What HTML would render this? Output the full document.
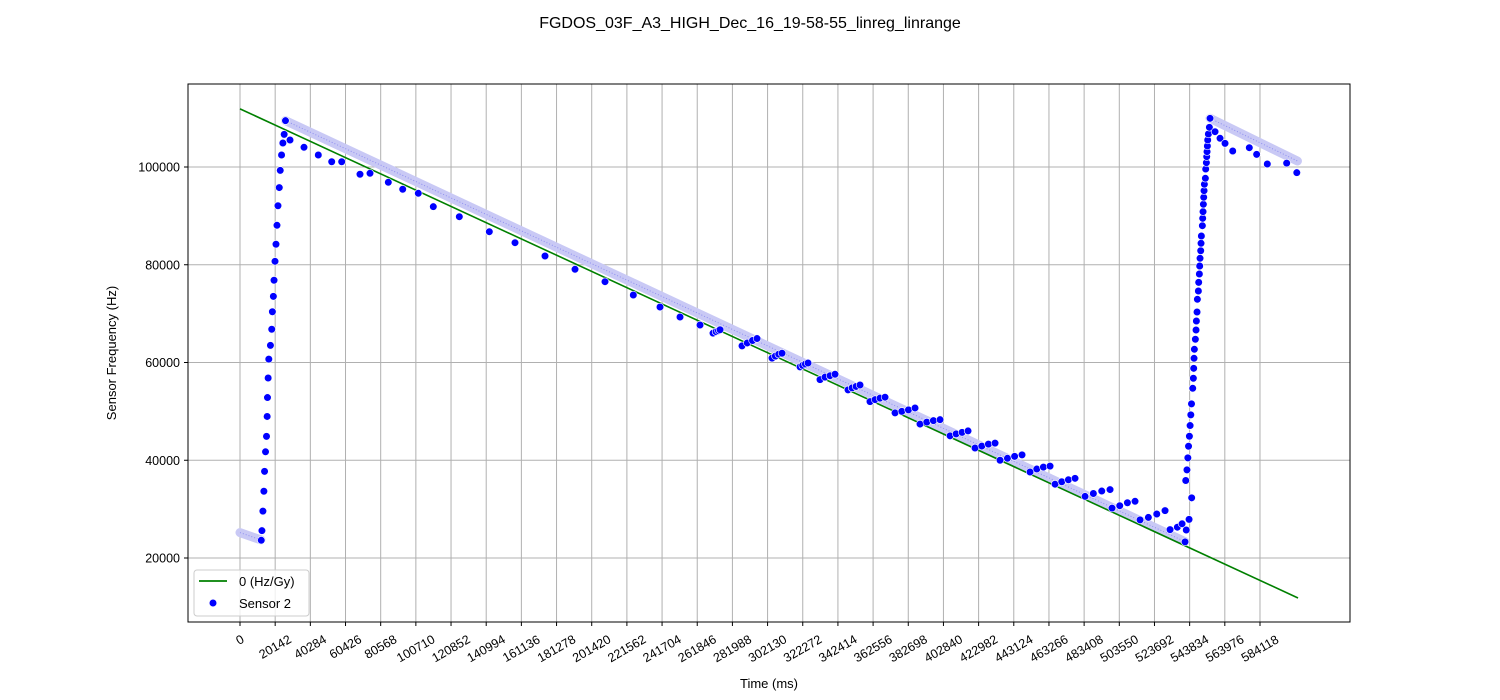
<!DOCTYPE html>
<html><head><meta charset="utf-8"><style>
html,body{margin:0;padding:0;background:#fff;}
svg{display:block;font-family:"Liberation Sans","DejaVu Sans",sans-serif;}
</style></head><body>
<svg id="chart" width="1500" height="700" viewBox="0 0 1500 700" xmlns="http://www.w3.org/2000/svg">
<rect x="0" y="0" width="1500" height="700" fill="#fff"/>
<text x="750" y="28" text-anchor="middle" font-size="16" fill="#000">FGDOS_03F_A3_HIGH_Dec_16_19-58-55_linreg_linrange</text>
<g id="grid"></g>
<g id="band"></g>
<g id="fit"></g>
<g id="pts"></g>
<rect x="188" y="84" width="1162" height="538" fill="none" stroke="#000" stroke-width="1"/>
<g id="xticks"></g>
<g id="yticks"></g>
<text x="769" y="688" text-anchor="middle" font-size="13">Time (ms)</text>
<text transform="translate(116,353) rotate(-90)" text-anchor="middle" font-size="13">Sensor Frequency (Hz)</text>
<g>
<rect x="194" y="570" width="115" height="46" rx="3" fill="#fff" fill-opacity="0.8" stroke="#ccc"/>
<line x1="199" y1="581" x2="227" y2="581" stroke="green" stroke-width="1.8"/>
<text x="239" y="586" font-size="13">0 (Hz/Gy)</text>
<circle cx="213" cy="603" r="3.8" fill="blue" stroke="#fff" stroke-width="0.6"/>
<text x="239" y="608" font-size="13">Sensor 2</text>
</g>
</svg>
<script>
// ---- data ----
var xTickVals = [0,20142,40284,60426,80568,100710,120852,140994,161136,181278,201420,221562,241704,261846,281988,302130,322272,342414,362556,382698,402840,422982,443124,463266,483408,503550,523692,543834,563976,584118];
var yTickVals = [20000,40000,60000,80000,100000];
var fitT = [0,605900];
var fitV = [111900,11820];
var band1T = [0,12000];
var band1V = [25200,23700];
var band2T = [26050,260000,541200];
var band2V = [109480,70450,23340];
var band3T = [555520,605560];
var band3V = [109960,101230];
var riseT = [12180,12560,13120,13680,14060,14620,15180,15550,15740,16120,16490,17430,18180,18550,19110,19490,20050,20610,21180,21740,22490,23050,23800,24550,25300,26050];
var riseV = [23620,25590,29590,33660,37730,41730,44890,48960,52830,56830,60690,63500,66800,70380,73530,76830,80700,84200,88070,92070,95790,99300,102460,104910,106670,109480];
var dropT = [28640,36650,44840,52520,58240,68720,74450,84930,93180,102110,110700,125600,142780,157490,174670,191850,209030,225240,240530,251990,263440];
var dropV = [105520,104030,102460,101080,101080,98510,98710,96870,95440,94620,91880,89830,86760,84510,81790,79070,76530,73810,71360,69310,67670];
var stepT = [270890,272600,274000,274900,287500,290500,293500,296090,304680,306600,308500,310400,320710,322200,323800,325290,332170,335000,337900,340760,348200,350500,352800,355070,360800,363700,366500,369390,375120,379000,382800,386570,389440,393300,397100,400890,406620,410100,413500,416930,420930,424800,428600,432390,435250,439500,443600,447850,452430,456300,460100,463890,466750,470600,474400,478200,483930,488700,493500,498250,499390,503800,508200,512570,515430,520200,525000,529750,532610,536800,539500,541200];
var stepV = [66000,66300,66500,66700,63400,64000,64500,64900,60900,61300,61700,61900,59100,59400,59700,59900,56500,57000,57300,57600,54400,54800,55100,55400,52000,52400,52700,52900,49700,50000,50300,50700,47400,47800,48100,48300,45000,45400,45700,46000,42500,42900,43300,43500,40000,40400,40800,41100,37600,38200,38600,38800,35100,35600,36000,36300,32600,33200,33700,34000,30200,30700,31300,31600,27800,28300,29000,29700,25800,26300,27000,23300];
var rise2T = [541900,543500,545000,545600,545960,546160,546350,546540,547110,547500,547690,548070,548260,548830,549020,549400,549590,549790,550170,550360,550550,551120,551310,551510,551700,551890,552080,552270,552840,553030,553420,553610,553800,553990,554180,554560,555140,555520];
var rise2V = [25730,27900,32310,54720,56770,58810,60860,62700,64750,66650,68490,70330,72930,74630,76400,78110,79740,81320,82870,84390,85880,87990,89500,90860,92370,93800,95150,96460,97690,99590,100880,102110,103130,104300,105520,106750,108120,109960];
var rise2bT = [541600,542300,542800,543200,543700,544100,544500,544900];
var rise2bV = [35850,38030,40490,42870,44910,47100,49290,51540];
var decay3T = [558380,561240,564100,568500,578000,582200,588300,599400,605200];
var decay3V = [107220,105870,104840,103270,103950,102590,100610,100790,98840];
// ---- axes ----
function xs(t){return 240 + t*1.7462e-3;}
function ys(v){return 558 - (v-20000)*0.0048875;}
var NS="http://www.w3.org/2000/svg";
function mk(tag,attrs,parent){var e=document.createElementNS(NS,tag);for(var k in attrs)e.setAttribute(k,attrs[k]);parent.appendChild(e);return e;}
var grid=document.getElementById('grid'),xt=document.getElementById('xticks'),yt=document.getElementById('yticks');
xTickVals.forEach(function(t){
  var x=xs(t);
  var g=mk('line',{x1:x,y1:84,x2:x,y2:622,stroke:'#b0b0b0','stroke-width':1},grid);
  
  
  var tk=mk('line',{x1:x,y1:622,x2:x,y2:626,stroke:'#000'},xt);
  
  
  var w=String(t).length*7;
  var cy=633+(w*0.5+10.4)/2+3.5;
  var tx=mk('text',{x:0,y:0,'font-size':12.5,'text-anchor':'middle',transform:'translate('+(x+2)+','+cy+') rotate(-30)'},xt);
  tx.textContent=t;
  
  
});
yTickVals.forEach(function(v){
  var y=ys(v);
  var g=mk('line',{x1:188,y1:y,x2:1350,y2:y,stroke:'#b0b0b0','stroke-width':1},grid);
  
  
  var tk=mk('line',{x1:184,y1:y,x2:188,y2:y,stroke:'#000'},yt);
  
  
  var tx=mk('text',{x:180,y:y+4.5,'font-size':12.5,'text-anchor':'end'},yt);
  tx.textContent=v;
  
  
});
// ---- band ----
var band=document.getElementById('band');
[[band1T,band1V],[band2T,band2V],[band3T,band3V]].forEach(function(b){
  var p=b[0].map(function(t,i){return xs(t)+','+ys(b[1][i]);}).join(' ');
  var l=mk('polyline',{points:p,fill:'none',stroke:'#c9c9f5','stroke-width':9,'stroke-linecap':'round'},band);
  
  
  var l2=mk('polyline',{points:p,fill:'none',stroke:'#8f8ff0','stroke-width':1,'stroke-dasharray':'1 2'},band);
  
  
});
// ---- fit line ----
var fl=mk('line',{x1:xs(fitT[0]),y1:ys(fitV[0]),x2:xs(fitT[1]),y2:ys(fitV[1]),stroke:'green','stroke-width':1.6},document.getElementById('fit'));


// ---- points ----
var pts=document.getElementById('pts');
[[riseT,riseV],[dropT,dropV],[stepT,stepV],[rise2bT,rise2bV],[rise2T,rise2V],[decay3T,decay3V]].forEach(function(s){
  s[0].forEach(function(t,i){
    var c=mk('circle',{cx:xs(t),cy:ys(s[1][i]),r:3.8,fill:'blue',stroke:'#fff','stroke-width':0.6},pts);
    
    
  });
});
</script>
</body></html>
